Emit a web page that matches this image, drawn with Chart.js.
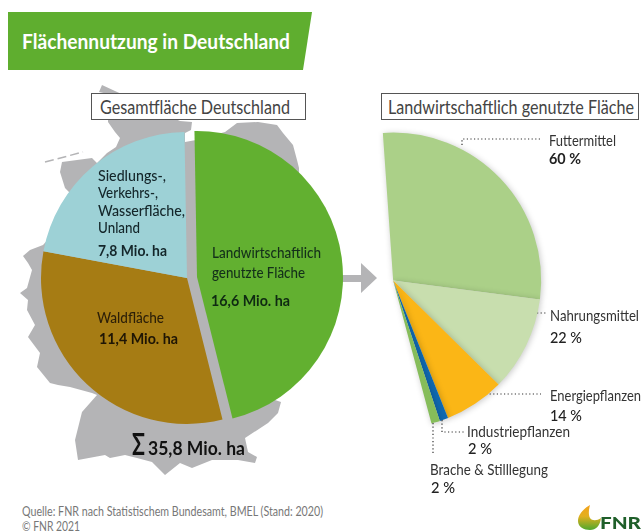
<!DOCTYPE html>
<html lang="de">
<head>
<meta charset="utf-8">
<title>Flächennutzung in Deutschland</title>
<script src="https://cdn.jsdelivr.net/npm/chart.js@4"></script>
<style>
  html, body { margin: 0; padding: 0; background: #fff; }
  #page { position: relative; width: 642px; height: 531px; overflow: hidden; font-family: Lato, "Open Sans", sans-serif; color: #1c2a1c; }
  #page svg, #page canvas { position: absolute; }
  .t { position: absolute; white-space: nowrap; transform: translateY(-50%); transform-origin: left center; line-height: 1; }
  .box { position: absolute; box-sizing: border-box; border: 1.5px solid #555; background: #fff; height: 27px; }
</style>
</head>
<body>
<div id="page">
  <svg width="642" height="531" viewBox="0 0 642 531">
    <defs>
      <linearGradient id="logoFill" x1="0" y1="0" x2="0" y2="1">
        <stop offset="0" stop-color="#f4a21c"/>
        <stop offset="0.45" stop-color="#e3b01e"/>
        <stop offset="1" stop-color="#4fa82e"/>
      </linearGradient>
    </defs>
    <polygon points="8,12 312,12 303,70 8,70" fill="#5fae2f"/>
    <!-- Umriss Deutschland, nur Hintergrund -->
    <polygon fill="#b4b4b6" points="102,85 99,92 108,94 108,122 115,132 120,138 116,147 107,153 97,163 92,158 62,162 60,172 65,188 72,195 52,235 43,245 30,250 23,256 28,263 32,270 27,288 20,293 28,300 27,310 35,325 28,337 40,353 37,367 50,383 58,385 70,387 92,393 97,395 82,412 75,440 78,460 105,455 110,458 125,455 137,458 152,462 165,475 180,463 192,468 212,460 238,460 255,463 257,457 248,452 245,438 268,423 278,413 281,402 275,400 300,300 299,168 297,160 293,145 283,133 277,125 258,122 237,123 225,132 196,140 185,142 185,133 191,130 192,122 180,121"/>
    <line x1="45" y1="162" x2="83" y2="152" stroke="#b4b4b6" stroke-width="1.5" stroke-dasharray="9 4"/>
    <!-- Pfeil -->
    <polygon fill="#b4b4b6" points="340,275 361,275 361,263 377,278 361,293 361,282 340,282"/>
    <!-- Hinweislinien -->
    <g fill="none" stroke="#333" stroke-width="1.2" stroke-dasharray="1.2 2.4">
      <polyline points="462,145 462,139 542,139"/>
      <line x1="537" y1="313" x2="546" y2="313"/>
      <line x1="486" y1="394" x2="541" y2="394"/>
      <polyline points="442,420 442,432 464,432"/>
      <line x1="433" y1="423" x2="433" y2="454"/>
    </g>
    <!-- Logo -->
    <path d="M590,505 C583,509 578,515 578,521 C578,527 584,530 590,530 C596,530 600,526 601,518 C597,521 592,521 590,518 C588,514 589,509 590,505 Z" fill="url(#logoFill)"/>
  </svg>

  <div class="box" style="left:91px;top:93px;width:215px"></div>
  <div class="box" style="left:381px;top:93px;width:258px"></div>

  <canvas id="gesamt" style="left:20px;top:118px" width="334" height="320"></canvas>
  <canvas id="landwirtschaft" style="left:370px;top:118px" width="184" height="320"></canvas>

  <div id="texts"></div>
</div>

<script>
  // Gesamtfläche in Mio. ha
  const gesamtLabels = ['Landwirtschaftlich genutzte Fläche', 'Waldfläche', 'Siedlungs-, Verkehrs-, Wasserfläche, Unland'];
  const gesamtValues = [16.6, 11.4, 7.8];
  const gesamtColors = ['#62b030', '#a67c14', '#9dd1d6'];

  // Anteile an der landwirtschaftlich genutzten Fläche in %
  const landLabels = ['Futtermittel', 'Nahrungsmittel', 'Energiepflanzen', 'Industriepflanzen', 'Brache & Stilllegung'];
  const landValues = [60, 22, 14, 2, 2];
  const landColors = ['#abd088', '#c8deae', '#fbb616', '#0f69b0', '#86bd5a'];

  // x, mittleres y, Text, Größe, Gewicht, Farbe, Breite
  const texts = [
    [22, 40, 'Flächennutzung in Deutschland', 21, 700, '#fff', 268],
    [100, 107, 'Gesamtfläche Deutschland', 18.5, 400, '#444', 190],
    [388, 107, 'Landwirtschaftlich genutzte Fläche', 18.5, 400, '#444', 246],
    [98, 175, 'Siedlungs-,', 15, 500, '#14262a', 68],
    [98, 192, 'Verkehrs-,', 15, 500, '#14262a', 60],
    [98, 210, 'Wasserfläche,', 15, 500, '#14262a', 87],
    [98, 227, 'Unland', 15, 500, '#14262a', 42],
    [98, 250, '7,8 Mio. ha', 16, 700, '#14262a', 69],
    [212, 252, 'Landwirtschaftlich', 15, 500, '#14301a', 109],
    [212, 272, 'genutzte Fläche', 15, 500, '#14301a', 93],
    [211, 300, '16,6 Mio. ha', 16, 700, '#0f2a12', 79],
    [97, 317, 'Waldfläche', 15, 500, '#2c1f08', 67],
    [99, 338, '11,4 Mio. ha', 16, 700, '#1e1505', 79],
    [132, 443, 'Σ', 30, 700, '#111', 13],
    [148, 448, '35,8 Mio. ha', 18, 700, '#111', 97],
    [549, 140, landLabels[0], 15, 400, '#333', 67],
    [549, 158, landValues[0] + ' %', 16, 700, '#222', 32],
    [550, 315, landLabels[1], 15, 400, '#333', 89],
    [550, 337, landValues[1] + ' %', 16, 500, '#222', 32],
    [550, 395, landLabels[2], 15, 400, '#333', 91],
    [550, 415, landValues[2] + ' %', 16, 500, '#222', 32],
    [467, 431, landLabels[3], 15, 400, '#333', 103],
    [468, 448, landValues[3] + ' %', 16, 500, '#222', 24],
    [430, 469, landLabels[4], 15, 400, '#333', 118],
    [431, 487, landValues[4] + ' %', 16, 500, '#222', 24],
    [22, 511, 'Quelle: FNR nach Statistischem Bundesamt, BMEL (Stand: 2020)', 13, 400, '#777', 301],
    [22, 526, '© FNR 2021', 13, 400, '#777', 58],
    [600, 522, 'FNR', 17, 900, '#1f5f2a', 41]
  ];

  const holder = document.getElementById('texts');
  texts.forEach(([x, y, str, size, weight, color, width]) => {
    const el = document.createElement('div');
    el.className = 't';
    el.textContent = str;
    el.style.left = x + 'px';
    el.style.top = y + 'px';
    el.style.fontSize = size + 'px';
    el.style.fontWeight = weight;
    el.style.color = color;
    holder.appendChild(el);
    // Breite an die Vorlage anpassen
    if (width) {
      el.style.transform = `translateY(-50%) scaleX(${width / el.getBoundingClientRect().width})`;
    }
  });

  // Grüner Sektor steht etwas vom Rest ab; das offset von Chart.js vergrößert auch den Radius
  const moveGreen = {
    id: 'moveGreen',
    afterDatasetsUpdate(chart) {
      const arc = chart.getDatasetMeta(0).data[0];
      arc.x += 10;
      arc.y -= 1;
    }
  };

  const softShadow = {
    id: 'softShadow',
    beforeDatasetDraw(chart) {
      const ctx = chart.ctx;
      ctx.save();
      ctx.shadowColor = 'rgba(0,0,0,0.22)';
      ctx.shadowBlur = 6;
      ctx.shadowOffsetX = 1;
      ctx.shadowOffsetY = 1;
    },
    afterDatasetDraw(chart) {
      chart.ctx.restore();
    }
  };

  const baseOptions = {
    responsive: false,
    animation: false,
    layout: { padding: 0 },
    plugins: { legend: { display: false }, tooltip: { enabled: false } }
  };

  new Chart(document.getElementById('gesamt'), {
    type: 'pie',
    data: {
      labels: gesamtLabels,
      datasets: [{
        data: gesamtValues,
        backgroundColor: gesamtColors,
        borderWidth: 0
      }]
    },
    options: { ...baseOptions, radius: 146, rotation: -1 },
    plugins: [moveGreen]
  });

  // Die rechte Torte zeigt nur den Sektor der landwirtschaftlichen Fläche
  new Chart(document.getElementById('landwirtschaft'), {
    type: 'pie',
    data: {
      labels: landLabels,
      datasets: [{
        data: landValues,
        backgroundColor: landColors,
        borderWidth: 0
      }]
    },
    options: { ...baseOptions, radius: 148, rotation: -4, circumference: 169 },
    plugins: [softShadow]
  });
</script>
</body>
</html>
